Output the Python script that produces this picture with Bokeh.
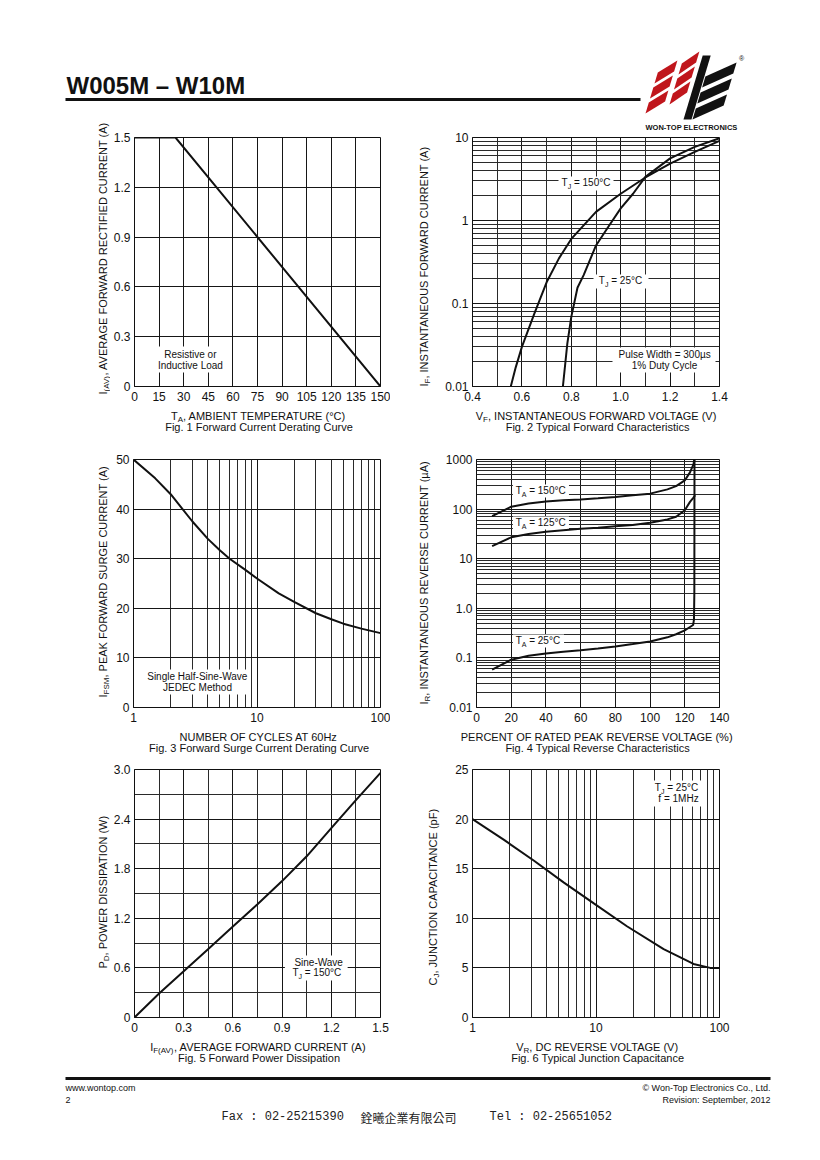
import math
from bokeh.plotting import figure
from bokeh.models import Range1d, FixedTicker, Label
from bokeh.layouts import column, row
from bokeh.embed import file_html
from bokeh.resources import INLINE

FONT = "Liberation Sans"
INK = "#111111"

# ---------------- data ----------------
# Fig. 1 Forward Current Derating Curve
fig1_temp_c = [0, 25, 150]
fig1_current_a = [1.5, 1.5, 0.0]
fig1_x_ticks = [0, 15, 30, 45, 60, 75, 90, 105, 120, 135, 150]
fig1_x_labels = ["0", "15", "30", "45", "60", "75", "90", "105", "120", "135", "150"]
fig1_y_ticks = [0, 0.3, 0.6, 0.9, 1.2, 1.5]
fig1_y_labels = ["0", "0.3", "0.6", "0.9", "1.2", "1.5"]

# Fig. 2 Typical Forward Characteristics
fig2_vf_150c = [0.555, 0.575, 0.6, 0.65, 0.7, 0.75, 0.8, 0.9, 1.0, 1.1, 1.2, 1.3, 1.4]
fig2_if_150c = [0.01, 0.017, 0.03, 0.075, 0.18, 0.35, 0.6, 1.27, 2.1, 3.3, 4.85, 6.7, 9.1]
fig2_vf_25c = [0.766, 0.784, 0.8, 0.825, 0.85, 0.9, 0.95, 1.0, 1.05, 1.1, 1.2, 1.3, 1.4]
fig2_if_25c = [0.01, 0.033, 0.069, 0.155, 0.22, 0.5, 0.84, 1.4, 2.1, 3.35, 5.6, 7.7, 9.8]
fig2_x_ticks = [0.4, 0.6, 0.8, 1.0, 1.2, 1.4]
fig2_x_labels = ["0.4", "0.6", "0.8", "1.0", "1.2", "1.4"]
fig2_y_ticks = [0.01, 0.1, 1, 10]
fig2_y_labels = ["0.01", "0.1", "1", "10"]

# Fig. 3 Forward Surge Current Derating Curve
fig3_cycles = [1, 1.5, 2, 3, 4, 5, 6, 8, 10, 15, 20, 30, 40, 50, 70, 100]
fig3_ifsm_a = [50, 46.2, 43, 37.5, 34, 31.7, 30, 27.8, 26, 23, 21.3, 19, 17.8, 16.9, 15.9, 15]
fig3_x_ticks = [1, 10, 100]
fig3_x_labels = ["1", "10", "100"]
fig3_y_ticks = [0, 10, 20, 30, 40, 50]
fig3_y_labels = ["0", "10", "20", "30", "40", "50"]

# Fig. 4 Typical Reverse Characteristics
fig4_pct_150c = [9, 20, 30, 40, 50, 60, 70, 80, 90, 100, 110, 115, 120, 123, 125, 125.5]
fig4_ir_150c = [72, 112, 130, 143, 150, 157, 165, 175, 190, 205, 250, 290, 380, 550, 800, 1000]
fig4_pct_125c = [9, 20, 30, 40, 50, 60, 70, 80, 90, 100, 110, 115, 120, 123, 125, 126]
fig4_ir_125c = [18, 27, 31.5, 35, 37.5, 40, 42, 45, 48, 53, 62, 70, 95, 140, 170, 190]
fig4_pct_25c = [9, 20, 30, 40, 50, 60, 70, 80, 90, 100, 110, 115, 120, 123, 124.8, 125.3, 125.5, 125.6]
fig4_ir_25c = [0.058, 0.092, 0.11, 0.123, 0.133, 0.143, 0.155, 0.17, 0.19, 0.215, 0.26, 0.3, 0.36, 0.42, 0.46, 0.6, 2.0, 1000]
fig4_x_ticks = [0, 20, 40, 60, 80, 100, 120, 140]
fig4_x_labels = ["0", "20", "40", "60", "80", "100", "120", "140"]
fig4_y_ticks = [0.01, 0.1, 1, 10, 100, 1000]
fig4_y_labels = ["0.01", "0.1", "1.0", "10", "100", "1000"]

# Fig. 5 Forward Power Dissipation
fig5_if_a = [0, 0.15, 0.3, 0.45, 0.6, 0.75, 0.9, 1.05, 1.2, 1.35, 1.5]
fig5_pd_w = [0, 0.29, 0.56, 0.83, 1.1, 1.37, 1.65, 1.95, 2.29, 2.63, 2.96]
fig5_x_ticks = [0, 0.3, 0.6, 0.9, 1.2, 1.5]
fig5_x_labels = ["0", "0.3", "0.6", "0.9", "1.2", "1.5"]
fig5_y_ticks = [0, 0.6, 1.2, 1.8, 2.4, 3.0]
fig5_y_labels = ["0", "0.6", "1.2", "1.8", "2.4", "3.0"]

# Fig. 6 Typical Junction Capacitance
fig6_vr_v = [1, 1.8, 3.15, 5.5, 9.6, 17.8, 35.3, 61.6, 84, 100]
fig6_cj_pf = [20, 17.9, 15.8, 13.6, 11.5, 9.2, 6.9, 5.4, 5.0, 5.0]
fig6_x_ticks = [1, 10, 100]
fig6_x_labels = ["1", "10", "100"]
fig6_y_ticks = [0, 5, 10, 15, 20, 25]
fig6_y_labels = ["0", "5", "10", "15", "20", "25"]

# ---------------- text metrics (Arial / Liberation Sans widths) ----------------
CW = {}
for chars, w in [(" ,.:/!", 278), ("()-r", 333), ("0123456789", 556), ("=", 584), ("%", 889),
                 ("°", 400), ("µ", 556), ("©", 737), ("–", 556),
                 ("ABEKPSVXY", 667), ("CDHNRUw", 722), ("FTZ", 611), ("GOQ", 778), ("I", 278),
                 ("J", 500), ("L", 556), ("M", 833), ("W", 944),
                 ("abdeghnopqu", 556), ("ckvxyzs", 500), ("ft", 278), ("ijl", 222), ("m", 833)]:
    for c in chars:
        CW[c] = w
CAPC = 0.358   # distance from baseline to middle of capitals, in em
SUBSIZE = {11: 8, 10: 7}


def text_width(s, size):
    return sum(CW.get(c, 556) for c in s) * size / 1000.0


class Canvas:
    """Maps page pixel positions to the data space of a figure."""

    def __init__(self, fig, fl, ft, fw, fh, xr, yr, xlog=False, ylog=False):
        self.fig, self.fl, self.ft, self.fw, self.fh = fig, fl, ft, fw, fh
        self.xr, self.yr, self.xlog, self.ylog = xr, yr, xlog, ylog

    @staticmethod
    def _map(r, f, log):
        a, b = r
        if log:
            return 10 ** (math.log10(a) + f * (math.log10(b) - math.log10(a)))
        return a + f * (b - a)

    def to_data(self, rx, ry):
        fx = (rx - self.fl) / self.fw
        fy = (self.ft + self.fh - ry) / self.fh
        return self._map(self.xr, fx, self.xlog), self._map(self.yr, fy, self.ylog)

    def box(self, l, t, r, b):
        x0, y0 = self.to_data(l, b)
        x1, y1 = self.to_data(r, t)
        self.fig.quad(left=[x0], right=[x1], bottom=[y0], top=[y1],
                      fill_color="white", line_color=None)

    def _label(self, t, px, py, s, ang, font, bold, color, align="left"):
        dx, dy = self.to_data(px, py)
        self.fig.add_layout(Label(x=dx, y=dy, text=t, angle=ang, text_align=align,
                                  text_baseline="middle", text_font=font,
                                  text_font_size=f"{s}px",
                                  text_font_style="bold" if bold else "normal",
                                  text_color=color))

    def rich(self, parts, x, y, size, align="center", vertical=False, color=INK,
             font=FONT, bold=False):
        """Horizontal: (x, y) = anchor on the baseline.
        Vertical: x = middle line, y = bottom end of the text (read bottom to top)."""
        sizes = [SUBSIZE[size] if sub else size for _, sub in parts]
        widths = [text_width(t, s) for (t, _), s in zip(parts, sizes)]
        total = sum(widths)
        pos = {"left": 0.0, "center": -total / 2.0, "right": -total}[align]
        if vertical:
            pos = 0.0
        for (t, sub), s, w in zip(parts, sizes, widths):
            core = t.strip()
            lead = len(t) - len(t.lstrip(" "))
            off = text_width(" " * lead, s)
            shift = size * 0.36 if sub else 0.0
            if vertical:
                self._label(core, x + shift, y - (pos + off), s, math.pi / 2,
                            font, bold, color)
            else:
                self._label(core, x + pos + off, y - CAPC * size + shift, s, 0.0,
                            font, bold, color)
            pos += w

    def text(self, t, x, y, size, align="left", color=INK, font=FONT, bold=False):
        self._label(t, x, y - CAPC * size, size, 0.0, font, bold, color, align)


# page layout (page pixels): (top, bottom, frame top, frame height)
ROWS = [(120, 406, 137, 249), (450, 727, 459, 248), (760, 1037, 769, 248)]
RIGHT_TOP1 = 132           # first right chart starts below the logo caption
XSTRIPS = [(406, 450), (727, 760), (1037, 1070)]
LEFT_FIG = (110, 390, 133)     # figure x0, x1, frame left
RIGHT_FIG = (442, 820, 472)
FW = 247
TICK_SIZE = "12px"
TITLE_SIZE = 11
CAP_SIZE = 11
NOTE_SIZE = 10


def strip(x0, y0, x1, y1):
    p = figure(width=int(x1 - x0), height=int(y1 - y0), x_range=Range1d(x0, x1),
               y_range=Range1d(y1, y0), x_axis_type=None, y_axis_type=None,
               output_backend="svg", toolbar_location=None, tools="", title=None,
               min_border=0, frame_align=False,
               background_fill_color="white", border_fill_color="white")
    p.outline_line_color = None
    return Canvas(p, x0, y0, x1 - x0, y1 - y0, (x0, x1), (y1, y0))


def decade_minors(lo_exp, hi_exp):
    return [k * 10.0 ** e for e in range(lo_exp, hi_exp) for k in range(2, 10)]


def make_chart(ci, ri, xr, yr, xlog, ylog, xt, xl, xm, yt, yl, ym):
    x0, x1, fl = LEFT_FIG if ci == 0 else RIGHT_FIG
    y0, y1, ft, fh = ROWS[ri]
    if ci == 1 and ri == 0:
        y0 = RIGHT_TOP1
    w, h = x1 - x0, y1 - y0
    L, T = fl - x0, ft - y0
    p = figure(width=w, height=h, x_range=Range1d(*xr), y_range=Range1d(*yr),
               x_axis_type="log" if xlog else "linear",
               y_axis_type="log" if ylog else "linear",
               output_backend="svg", toolbar_location=None, tools="", title=None,
               min_border_left=L, min_border_right=w - L - FW,
               min_border_top=T, min_border_bottom=h - T - fh, frame_align=False,
               background_fill_color="white", border_fill_color="white")
    p.outline_line_color = INK
    p.outline_line_width = 1
    xtk = FixedTicker(ticks=xt, minor_ticks=xm)
    ytk = FixedTicker(ticks=yt, minor_ticks=ym)
    p.xaxis.ticker = xtk
    p.yaxis.ticker = ytk
    p.xgrid.ticker = xtk
    p.ygrid.ticker = ytk
    p.xaxis.major_label_overrides = dict(zip(xt, xl))
    p.yaxis.major_label_overrides = dict(zip(yt, yl))
    for ax in p.xaxis + p.yaxis:
        ax.major_tick_in = 0
        ax.major_tick_out = 0
        ax.minor_tick_in = 0
        ax.minor_tick_out = 0
        ax.axis_line_color = INK
        ax.major_label_text_font = FONT
        ax.major_label_text_font_size = TICK_SIZE
        ax.major_label_text_color = INK
    p.xaxis.major_label_standoff = 5
    p.yaxis.major_label_standoff = 4
    for g in (p.xgrid[0], p.ygrid[0]):
        g.grid_line_color = "#161616"
        g.grid_line_width = 1
        g.minor_grid_line_color = "#2a2a2a"
        g.minor_grid_line_width = 1
    return Canvas(p, fl, ft, FW, fh, xr, yr, xlog, ylog)


# strips that hold the axis titles
row_strips = []
for ri in range(3):
    y0, y1, ft, fh = ROWS[ri]
    row_strips.append((strip(0, y0, LEFT_FIG[0], y1), strip(LEFT_FIG[1], y0, RIGHT_FIG[0], y1)))
x_strips = [strip(0, a, 820, b) for a, b in XSTRIPS]


def titles(ci, ri, xparts, yparts, caption, ylab_cx, ylab_bottom):
    y0, y1, ft, fh = ROWS[ri]
    fb = ft + fh
    fl = LEFT_FIG[2] if ci == 0 else RIGHT_FIG[2]
    cx = fl + FW / 2.0 + 2
    xs = x_strips[ri]
    xs.rich(xparts, cx, fb + 33.0, TITLE_SIZE)
    xs.rich([(caption, 0)], cx, fb + 44.0, CAP_SIZE)
    row_strips[ri][ci].rich(yparts, ylab_cx, ylab_bottom, TITLE_SIZE, vertical=True)


# ---------------- Fig. 1 ----------------
c1 = make_chart(0, 0, (0, 150), (0, 1.5), False, False,
                fig1_x_ticks, fig1_x_labels, [],
                fig1_y_ticks, fig1_y_labels, [])
c1.box(157, 346, 222, 372)
c1.fig.line(fig1_temp_c, fig1_current_a, line_color=INK, line_width=2)
c1.rich([("Resistive or", 0)], 189, 358, NOTE_SIZE)
c1.rich([("Inductive Load", 0)], 189, 369, NOTE_SIZE)
titles(0, 0, [("T", 0), ("A", 1), (", AMBIENT TEMPERATURE (°C)", 0)],
       [("I", 0), ("(AV)", 1), (", AVERAGE FORWARD RECTIFIED CURRENT (A)", 0)],
       "Fig. 1 Forward Current Derating Curve", 102.5, 394)

# ---------------- Fig. 2 ----------------
c2 = make_chart(1, 0, (0.4, 1.4), (0.01, 10), False, True,
                fig2_x_ticks, fig2_x_labels, [0.5, 0.7, 0.9, 1.1, 1.3],
                fig2_y_ticks, fig2_y_labels, decade_minors(-2, 1))
c2.box(558, 176, 613, 190)
c2.box(593, 274, 648, 288)
c2.box(612, 347, 715, 372)
c2.fig.line(fig2_vf_150c, fig2_if_150c, line_color=INK, line_width=2)
c2.fig.line(fig2_vf_25c, fig2_if_25c, line_color=INK, line_width=2)
c2.rich([("T", 0), ("J", 1), (" = 150°C", 0)], 585.5, 186, NOTE_SIZE)
c2.rich([("T", 0), ("J", 1), (" = 25°C", 0)], 620, 284, NOTE_SIZE)
c2.rich([("Pulse Width = 300µs", 0)], 664, 358, NOTE_SIZE)
c2.rich([("1% Duty Cycle", 0)], 664, 368.5, NOTE_SIZE)
titles(1, 0, [("V", 0), ("F", 1), (", INSTANTANEOUS FORWARD VOLTAGE (V)", 0)],
       [("I", 0), ("F", 1), (", INSTANTANEOUS FORWARD CURRENT (A)", 0)],
       "Fig. 2 Typical Forward Characteristics", 423.5, 386)

# ---------------- Fig. 3 ----------------
c3 = make_chart(0, 1, (1, 100), (0, 50), True, False,
                fig3_x_ticks, fig3_x_labels, decade_minors(0, 2),
                fig3_y_ticks, fig3_y_labels, [])
c3.box(145, 669, 249, 694)
c3.fig.line(fig3_cycles, fig3_ifsm_a, line_color=INK, line_width=2)
c3.rich([("Single Half-Sine-Wave", 0)], 197, 680, NOTE_SIZE)
c3.rich([("JEDEC Method", 0)], 197, 691, NOTE_SIZE)
titles(0, 1, [("NUMBER OF CYCLES AT 60Hz", 0)],
       [("I", 0), ("FSM", 1), (", PEAK FORWARD SURGE CURRENT (A)", 0)],
       "Fig. 3 Forward Surge Current Derating Curve", 102.5, 697)

# ---------------- Fig. 4 ----------------
c4 = make_chart(1, 1, (0, 140), (0.01, 1000), False, True,
                fig4_x_ticks, fig4_x_labels, [],
                fig4_y_ticks, fig4_y_labels, decade_minors(-2, 3))
c4.box(509, 484, 566, 497)
c4.box(509, 516, 566, 529)
c4.box(509, 634, 561, 647)
c4.fig.line(fig4_pct_150c, fig4_ir_150c, line_color=INK, line_width=2)
c4.fig.line(fig4_pct_125c, fig4_ir_125c, line_color=INK, line_width=2)
c4.fig.line(fig4_pct_25c, fig4_ir_25c, line_color=INK, line_width=2)
c4.rich([("T", 0), ("A", 1), (" = 150°C", 0)], 512, 494, NOTE_SIZE, align="left")
c4.rich([("T", 0), ("A", 1), (" = 125°C", 0)], 512, 526, NOTE_SIZE, align="left")
c4.rich([("T", 0), ("A", 1), (" = 25°C", 0)], 512, 644, NOTE_SIZE, align="left")
titles(1, 1, [("PERCENT OF RATED PEAK REVERSE VOLTAGE (%)", 0)],
       [("I", 0), ("R", 1), (", INSTANTANEOUS REVERSE CURRENT (µA)", 0)],
       "Fig. 4 Typical Reverse Characteristics", 423.5, 704)

# ---------------- Fig. 5 ----------------
c5 = make_chart(0, 2, (0, 1.5), (0, 3.0), False, False,
                fig5_x_ticks, fig5_x_labels, [0.15, 0.45, 0.75, 1.05, 1.35],
                fig5_y_ticks, fig5_y_labels, [0.3, 0.9, 1.5, 2.1, 2.7])
c5.box(284, 955, 347, 980)
c5.fig.line(fig5_if_a, fig5_pd_w, line_color=INK, line_width=2)
c5.rich([("Sine-Wave", 0)], 318, 966, NOTE_SIZE)
c5.rich([("T", 0), ("J", 1), (" = 150°C", 0)], 316, 976, NOTE_SIZE)
titles(0, 2, [("I", 0), ("F(AV)", 1), (", AVERAGE FORWARD CURRENT (A)", 0)],
       [("P", 0), ("D", 1), (", POWER DISSIPATION (W)", 0)],
       "Fig. 5 Forward Power Dissipation", 102.5, 968)

# ---------------- Fig. 6 ----------------
c6 = make_chart(1, 2, (1, 100), (0, 25), True, False,
                fig6_x_ticks, fig6_x_labels, decade_minors(0, 2),
                fig6_y_ticks, fig6_y_labels, [])
c6.box(647, 780, 704, 806)
c6.fig.line(fig6_vr_v, fig6_cj_pf, line_color=INK, line_width=2)
c6.rich([("T", 0), ("J", 1), (" = 25°C", 0)], 676, 791, NOTE_SIZE)
c6.rich([("f = 1MHz", 0)], 678, 802, NOTE_SIZE)
titles(1, 2, [("V", 0), ("R", 1), (", DC REVERSE VOLTAGE (V)", 0)],
       [("C", 0), ("J", 1), (", JUNCTION CAPACITANCE (pF)", 0)],
       "Fig. 6 Typical Junction Capacitance", 432, 985)

# ---------------- header & footer ----------------
hdr = strip(0, 0, 820, 120)
hdr.text("W005M – W10M", 66, 94, 24, bold=True)
hdr.fig.line([65, 640], [99, 99], line_color=INK, line_width=3)


def bars(x0, yb, n, h, gap, W, R, slope):
    xs, ys = [], []
    for i in range(n):
        y = yb - i * (h + gap)
        xl = lambda yy: x0 + slope * (yb - yy)
        xr = lambda yy: x0 + W + slope * (yb - yy)
        xs.append([xl(y), xr(y - R), xr(y - R - h), xl(y - h)])
        ys.append([y, y - R, y - R - h, y - h])
    return xs, ys


RED = "#c0161c"
for bx, by, bw in [(645, 113, 16), (669, 104, 14)]:
    xs, ys = bars(bx, by, 3, 11, 4, bw, 12, 0.3)
    hdr.fig.patches(xs, ys, fill_color=RED, line_color=None)
xs, ys = bars(692, 119, 3, 11, 5, 27, 14, 0.3)
xs.append([683, 691, 710.2, 702.2])
ys.append([119, 119, 55, 55])
hdr.fig.patches(xs, ys, fill_color=INK, line_color=None)
hdr.text("®", 738.5, 61, 7)

logo_cap = strip(RIGHT_FIG[0], 120, RIGHT_FIG[1], RIGHT_TOP1)
logo_cap.text("WON-TOP ELECTRONICS", 691, 130, 7.5, align="center", bold=True)

ftr = strip(0, 1070, 820, 1160)
ftr.fig.line([65, 770], [1078, 1078], line_color=INK, line_width=3)
ftr.text("www.wontop.com", 65, 1091, 9)
ftr.text("2", 65, 1103, 9)
ftr.text("© Won-Top Electronics Co., Ltd.", 770, 1091, 9, align="right")
ftr.text("Revision: September, 2012", 770, 1103, 9, align="right")
ftr.text("Fax : 02-25215390", 221, 1121, 12, font="Liberation Mono", color="#222222")
ftr.text("銓曦企業有限公司", 360, 1121, 12, font="Noto Sans CJK TC", color="#222222")
ftr.text("Tel : 02-25651052", 489, 1121, 12, font="Liberation Mono", color="#222222")

charts = [(c1, c2), (c3, c4), (c5, c6)]
children = [hdr.fig]
for ri in range(3):
    a, b = row_strips[ri]
    left, right = charts[ri]
    right_block = column(logo_cap.fig, right.fig) if ri == 0 else right.fig
    children.append(row(a.fig, left.fig, b.fig, right_block))
    children.append(x_strips[ri].fig)
children.append(ftr.fig)
page = column(*children)

open("out.html", "w").write(file_html(page, INLINE, title="W005M – W10M"))
